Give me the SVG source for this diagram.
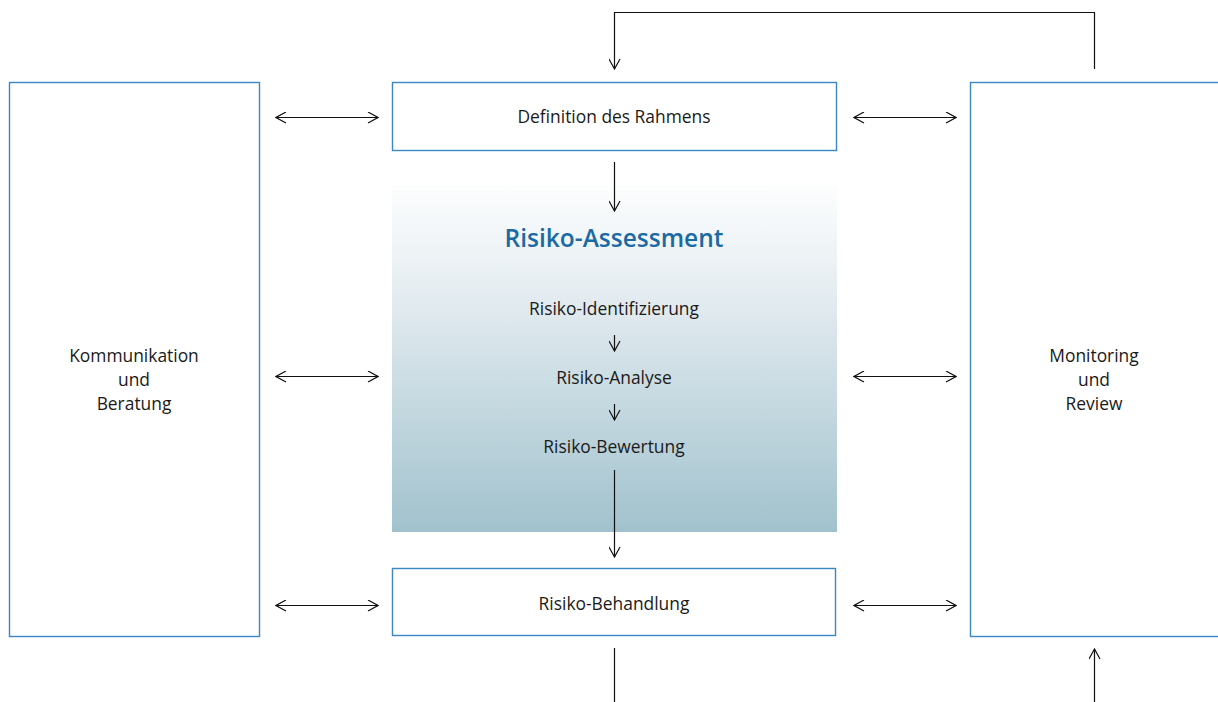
<svg xmlns="http://www.w3.org/2000/svg" width="1218" height="702" viewBox="0 0 1218 702">
  <style>
    .box { fill: #ffffff; stroke: #3b87c2; stroke-width: 1.4; }
    .lbl { font-family: "Open Sans", "Liberation Sans", sans-serif; font-size: 17.4px; fill: #1a1a1a; text-anchor: middle; }
    .title { font-family: "Open Sans", "Liberation Sans", sans-serif; font-size: 24.5px; font-weight: 600; fill: #1b6aa3; text-anchor: middle; }
    .ln { fill: none; stroke: #111111; stroke-width: 1.2; }
  </style>
  <defs>
    <linearGradient id="assessGrad" x1="0" y1="0" x2="0" y2="1">
      <stop offset="0" stop-color="#fdfefe"/>
      <stop offset="0.35" stop-color="#e1eaef"/>
      <stop offset="1" stop-color="#a1c2cd"/>
    </linearGradient>
    <marker id="head" viewBox="0 0 12 12" refX="11" refY="6" markerWidth="12" markerHeight="12" markerUnits="userSpaceOnUse" orient="auto-start-reverse">
      <path d="M1,0.5 L11,6 L1,11.5" fill="none" stroke="#111111" stroke-width="1.2"/>
    </marker>
  </defs>

  <!-- Kommunikation und Beratung -->
  <g id="kommunikation">
    <rect class="box" x="9.5" y="82.5" width="250" height="554"/>
    <text class="lbl" x="134" y="362">Kommunikation</text>
    <text class="lbl" x="134" y="386">und</text>
    <text class="lbl" x="134" y="410">Beratung</text>
  </g>

  <!-- Definition des Rahmens -->
  <g id="rahmen">
    <rect class="box" x="392.5" y="82.5" width="444" height="68"/>
    <text class="lbl" x="614" y="123">Definition des Rahmens</text>
  </g>

  <!-- Risiko-Assessment -->
  <g id="assessment">
    <rect x="392" y="185" width="445" height="347" fill="url(#assessGrad)"/>
    <text class="title" x="614" y="247">Risiko-Assessment</text>
    <text class="lbl" x="614" y="315">Risiko-Identifizierung</text>
    <text class="lbl" x="614" y="384">Risiko-Analyse</text>
    <text class="lbl" x="614" y="453">Risiko-Bewertung</text>
  </g>

  <!-- Risiko-Behandlung -->
  <g id="behandlung">
    <rect class="box" x="392.5" y="568.5" width="443" height="67"/>
    <text class="lbl" x="614" y="610">Risiko-Behandlung</text>
  </g>

  <!-- Monitoring und Review -->
  <g id="monitoring">
    <rect class="box" x="970.5" y="82.5" width="260" height="554"/>
    <text class="lbl" x="1094" y="362">Monitoring</text>
    <text class="lbl" x="1094" y="386">und</text>
    <text class="lbl" x="1094" y="410">Review</text>
  </g>

  <!-- Connectors -->
  <g id="connectors">
    <!-- feedback loop from Monitoring back to Definition -->
    <path class="ln" d="M1094.5,69 V12.5 H614.5 V69" marker-end="url(#head)"/>
    <!-- main vertical flow -->
    <line class="ln" x1="614.5" y1="162" x2="614.5" y2="211" marker-end="url(#head)"/>
    <line class="ln" x1="614.5" y1="335" x2="614.5" y2="351" marker-end="url(#head)"/>
    <line class="ln" x1="614.5" y1="404" x2="614.5" y2="420" marker-end="url(#head)"/>
    <line class="ln" x1="614.5" y1="470" x2="614.5" y2="557" marker-end="url(#head)"/>
    <line class="ln" x1="614.5" y1="648" x2="614.5" y2="702"/>
    <line class="ln" x1="1094.5" y1="702" x2="1094.5" y2="649" marker-end="url(#head)"/>
    <!-- left double arrows -->
    <line class="ln" x1="276" y1="117.5" x2="378" y2="117.5" marker-start="url(#head)" marker-end="url(#head)"/>
    <line class="ln" x1="276" y1="376.5" x2="378" y2="376.5" marker-start="url(#head)" marker-end="url(#head)"/>
    <line class="ln" x1="276" y1="605.5" x2="378" y2="605.5" marker-start="url(#head)" marker-end="url(#head)"/>
    <!-- right double arrows -->
    <line class="ln" x1="854" y1="117.5" x2="956" y2="117.5" marker-start="url(#head)" marker-end="url(#head)"/>
    <line class="ln" x1="854" y1="376.5" x2="956" y2="376.5" marker-start="url(#head)" marker-end="url(#head)"/>
    <line class="ln" x1="854" y1="605.5" x2="956" y2="605.5" marker-start="url(#head)" marker-end="url(#head)"/>
  </g>
</svg>
